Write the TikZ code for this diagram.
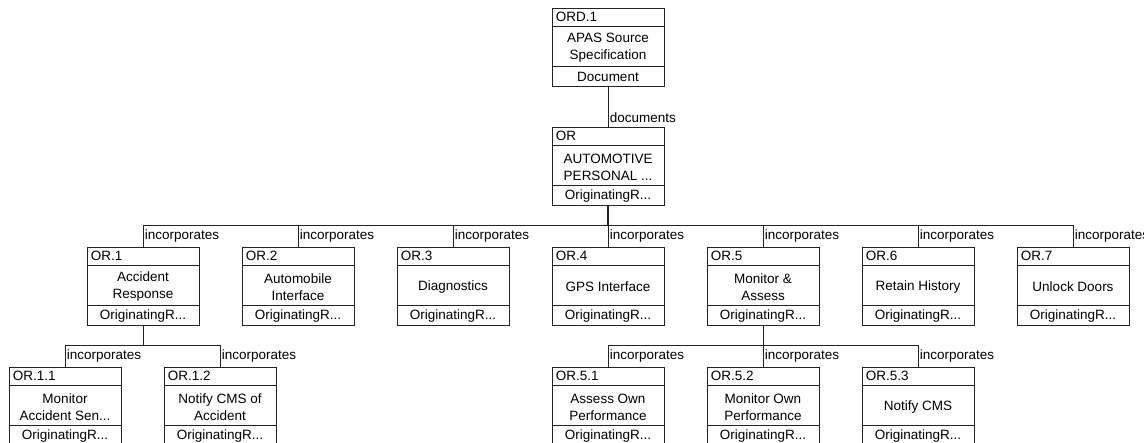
\documentclass[tikz,border=0pt]{standalone}
\usepackage{fontspec}
\setmainfont{Liberation Sans}
\usetikzlibrary{calc}
\definecolor{lineclr}{RGB}{35,35,35}

\begin{document}
\begin{tikzpicture}[x=1pt, y=1pt,
  font=\fontsize{13.5}{17}\selectfont,
  reqbox/.style={draw=lineclr, line width=0.9pt, minimum width=112pt,
    minimum height=78pt, inner sep=0pt, anchor=north},
  link/.style={draw=lineclr, line width=0.9pt},
  rel/.style={anchor=west, inner sep=1.5pt}]
\useasboundingbox (0,0) rectangle (1144,-443);

% Requirement boxes: name / x / top y / id / text / kind
\foreach \name/\x/\y/\id/\txt/\kind in {
    ord1/608/8/ORD.1/{APAS Source\\Specification}/Document,
    or/608/127/OR/{AUTOMOTIVE\\PERSONAL ...}/{OriginatingR...},
    or1/143/247/OR.1/{Accident\\Response}/{OriginatingR...},
    or2/298/247/OR.2/{Automobile\\Interface}/{OriginatingR...},
    or3/453/247/OR.3/{Diagnostics}/{OriginatingR...},
    or4/608/247/OR.4/{GPS Interface}/{OriginatingR...},
    or5/763/247/OR.5/{Monitor \&\\Assess}/{OriginatingR...},
    or6/918/247/OR.6/{Retain History}/{OriginatingR...},
    or7/1073/247/OR.7/{Unlock Doors}/{OriginatingR...},
    or11/65/367/OR.1.1/{Monitor\\Accident Sen...}/{OriginatingR...},
    or12/220/367/OR.1.2/{Notify CMS of\\Accident}/{OriginatingR...},
    or51/608/367/OR.5.1/{Assess Own\\Performance}/{OriginatingR...},
    or52/763/367/OR.5.2/{Monitor Own\\Performance}/{OriginatingR...},
    or53/918/367/OR.5.3/{Notify CMS}/{OriginatingR...}} {
  \node[reqbox] (\name) at (\x,-\y) {};
  \draw[link] ($(\name.north west)+(0,-18)$) -- ($(\name.north east)+(0,-18)$);
  \draw[link] ($(\name.south west)+(0,20)$) -- ($(\name.south east)+(0,20)$);
  \node[anchor=west, inner sep=0pt] (\name-id) at ($(\name.north west)+(4,-9)$) {\id};
  \node[align=center, inner sep=0pt] (\name-txt) at ($(\name.north)+(0,-40)$) {\txt};
  \node[inner sep=0pt] (\name-kind) at ($(\name.south)+(0,10)$) {\kind};
}

% Buses
\coordinate (busA) at (0,-225);
\coordinate (busB) at (0,-345);

\draw[link] (ord1) -- (or) node[rel, pos=0.78] {documents};

% Top level
\draw[link, line width=1.8pt] (or.south) -- (or.south |- busA);
\draw[link] (or1.north |- busA) -- (or7.north |- busA);
\foreach \c in {or1,or2,or3,or4,or5,or6,or7}
  \draw[link] (\c.north |- busA) -- (\c.north) node[rel, midway] {incorporates};

% Under OR.1
\draw[link] (or1.south) -- (or1.south |- busB);
\draw[link] (or11.north |- busB) -- (or12.north |- busB);
\foreach \c in {or11,or12}
  \draw[link] (\c.north |- busB) -- (\c.north) node[rel, midway] {incorporates};

% Under OR.5
\draw[link] (or5.south) -- (or5.south |- busB);
\draw[link] (or51.north |- busB) -- (or53.north |- busB);
\foreach \c in {or51,or52,or53}
  \draw[link] (\c.north |- busB) -- (\c.north) node[rel, midway] {incorporates};
\end{tikzpicture}
\end{document}
